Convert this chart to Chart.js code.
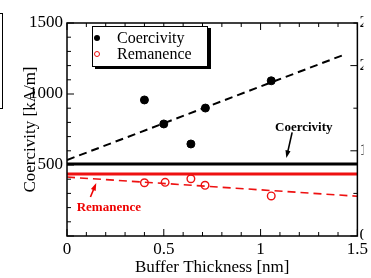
<!DOCTYPE html>
<html>
<head>
<meta charset="utf-8">
<script src="https://cdn.jsdelivr.net/npm/chart.js@4/dist/chart.umd.min.js"></script>
<style>
  html, body { margin: 0; padding: 0; background: #fff; }
  #wrap { position: relative; width: 371px; height: 278px; overflow: hidden; }
  canvas { display: block; }
  .edge-box { position: absolute; left: -10px; top: 13px; width: 11px; height: 94px; border: 1.5px solid #000; }
  .legend { position: absolute; left: 92px; top: 26px; width: 114px; height: 39px; border: 1px solid #000;
            box-shadow: 3px 2px 0 #000; background: #fff; font: 16px "Liberation Serif", serif; color: #000; }
  .legend-row { position: absolute; left: 0; height: 16px; line-height: 16px; white-space: nowrap; }
  .legend-row .mark { position: absolute; left: 1px; top: 5px; width: 6px; height: 6px; border-radius: 50%; box-sizing: border-box; }
  .legend-row .txt { position: absolute; left: 24px; top: 0; }
</style>
</head>
<body>
<div id="wrap">
  <canvas id="chart" width="371" height="278"></canvas>
  <div class="edge-box"></div>
  <div class="legend" id="legend"></div>
</div>
<script>
// ── Data ──────────────────────────────────────────────────────────────────────

const coercThickness = [0.40, 0.50, 0.64, 0.715, 1.055];
const coercValues    = [958, 789, 648, 901, 1093];

const remThickness   = [0.40, 0.507, 0.64, 0.713, 1.055];
const remValues      = [375, 378, 403, 357, 282];

// fitted trend lines (dashed)
const coercFitX = [0, 1.44];
const coercFitY = [535, 1281];
const remFitX   = [0, 1.5];
const remFitY   = [415, 280];

// reference levels (solid)
const levelX       = [0, 1.5];
const coercLevelY  = [507, 507];
const remLevelY    = [437, 437];

const xTickLabels  = ['0', '0.5', '1', '1.5'];
const legendLabels = ['Coercivity', 'Remanence'];

// annotation anchors, in data units
const notes = [
    { text: 'Coercivity', color: '#000', at: [1.223, 760], from: [1.163, 730], to: [1.133, 549] },
    { text: 'Remanence',  color: '#e00', at: [0.216, 197], from: [0.121, 275], to: [0.151, 373] },
];

const SERIF = '"Liberation Serif", "Times New Roman", serif';
const RED = '#ee1111';

const pts = (xs, ys) => xs.map((x, i) => ({ x, y: ys[i] }));

// ── Plugins ───────────────────────────────────────────────────────────────────

function drawArrow(ctx, x1, y1, x2, y2, color) {
    const ang = Math.atan2(y2 - y1, x2 - x1);
    const h = 8;
    ctx.strokeStyle = color;
    ctx.fillStyle = color;
    ctx.lineWidth = 1.6;
    ctx.beginPath();
    ctx.moveTo(x1, y1);
    ctx.lineTo(x2 - Math.cos(ang) * h * 0.7, y2 - Math.sin(ang) * h * 0.7);
    ctx.stroke();
    ctx.beginPath();
    ctx.moveTo(x2, y2);
    ctx.lineTo(x2 - h * Math.cos(ang - 0.33), y2 - h * Math.sin(ang - 0.33));
    ctx.lineTo(x2 - h * Math.cos(ang + 0.33), y2 - h * Math.sin(ang + 0.33));
    ctx.closePath();
    ctx.fill();
}

const frameTicks = {
    id: 'frameTicks',
    afterDatasetsDraw(chart) {
        const { ctx, chartArea: a, scales: { x, y, y2 } } = chart;
        ctx.save();
        ctx.strokeStyle = '#000';
        ctx.lineWidth = 1.5;
        ctx.strokeRect(a.left, a.top, a.right - a.left, a.bottom - a.top);
        ctx.lineWidth = 1;
        ctx.beginPath();
        for (let i = 0; i <= 15; i++) {
            const px = x.getPixelForValue(i / 10);
            const len = i % 5 === 0 ? 7 : 4;
            ctx.moveTo(px, a.bottom); ctx.lineTo(px, a.bottom - len);
            ctx.moveTo(px, a.top);    ctx.lineTo(px, a.top + len);
        }
        for (let i = 0; i <= 15; i++) {
            const py = y.getPixelForValue(i * 100);
            const len = i % 5 === 0 ? 7 : 4;
            ctx.moveTo(a.left, py); ctx.lineTo(a.left + len, py);
        }
        for (let i = 0; i <= 5; i++) {
            const py = y2.getPixelForValue(i * 0.5);
            const len = i % 2 === 0 ? 7 : 4;
            ctx.moveTo(a.right, py); ctx.lineTo(a.right - len, py);
        }
        ctx.stroke();

        // annotations
        notes.forEach(n => {
            ctx.font = `bold 13px ${SERIF}`;
            ctx.fillStyle = n.color;
            ctx.textAlign = 'center';
            ctx.textBaseline = 'middle';
            ctx.fillText(n.text, x.getPixelForValue(n.at[0]), y.getPixelForValue(n.at[1]));
            drawArrow(ctx,
                x.getPixelForValue(n.from[0]), y.getPixelForValue(n.from[1]),
                x.getPixelForValue(n.to[0]),   y.getPixelForValue(n.to[1]), n.color);
        });
        ctx.restore();
    }
};

// ── Chart ─────────────────────────────────────────────────────────────────────

new Chart(document.getElementById('chart').getContext('2d'), {
    type: 'scatter',
    data: {
        datasets: [
            { data: pts(levelX, coercLevelY), showLine: true, borderColor: '#000', borderWidth: 3, pointRadius: 0 },
            { data: pts(levelX, remLevelY),   showLine: true, borderColor: RED,    borderWidth: 3, pointRadius: 0 },
            { data: pts(coercFitX, coercFitY), showLine: true, borderColor: '#000', borderWidth: 2, borderDash: [8, 5], pointRadius: 0 },
            { data: pts(remFitX, remFitY),     showLine: true, borderColor: RED,    borderWidth: 1.6, borderDash: [8, 5], pointRadius: 0 },
            { label: legendLabels[0], data: pts(coercThickness, coercValues), pointRadius: 4,
              pointBackgroundColor: '#000', pointBorderColor: '#000', pointBorderWidth: 1 },
            { label: legendLabels[1], data: pts(remThickness, remValues), pointRadius: 3.8,
              pointBackgroundColor: '#fff', pointBorderColor: RED, pointBorderWidth: 1.4 },
        ],
    },
    options: {
        responsive: false,
        animation: false,
        layout: { padding: { top: 23, left: 0, right: 0, bottom: 0 } },
        plugins: { legend: { display: false }, tooltip: { enabled: false } },
        scales: {
            x: {
                type: 'linear', min: 0, max: 1.5, position: 'bottom',
                grid: { display: false, drawTicks: false },
                border: { display: false },
                ticks: {
                    stepSize: 0.5, padding: 3, color: '#000', maxRotation: 0,
                    font: { family: SERIF, size: 17 },
                    callback: (v, i) => xTickLabels[i] ?? '',
                },
                title: { display: true, text: 'Buffer Thickness [nm]', color: '#000',
                         font: { family: SERIF, size: 17 }, padding: { top: 0, bottom: 0 } },
                afterFit: s => { s.height = 42; },
            },
            y: {
                type: 'linear', min: 0, max: 1500, position: 'left',
                grid: { display: false, drawTicks: false },
                border: { display: false },
                ticks: {
                    stepSize: 500, padding: 4, color: '#000',
                    font: { family: SERIF, size: 17 },
                    callback: v => (v === 0 ? '' : v),
                },
                title: { display: true, text: 'Coercivity [kA/m]', color: '#000',
                         font: { family: SERIF, size: 17 }, padding: { top: 20, bottom: 0 } },
                afterFit: s => { s.width = 67; },
            },
            y2: {
                type: 'linear', min: 0, max: 2.5, position: 'right',
                grid: { display: false, drawTicks: false },
                border: { display: false },
                ticks: { stepSize: 1, padding: 2, color: '#000', font: { family: SERIF, size: 17 } },
                afterFit: s => { s.width = 6; },
            },
        },
    },
    plugins: [frameTicks],
});

// ── Legend ────────────────────────────────────────────────────────────────────

const legendMarks = [
    'background:#000;',
    `background:#fff;border:1.3px solid ${RED};`,
];
document.getElementById('legend').innerHTML = legendLabels.map((label, i) =>
    `<div class="legend-row" style="top:${3 + i * 16}px"><span class="mark" style="${legendMarks[i]}"></span><span class="txt">${label}</span></div>`
).join('');
</script>
</body>
</html>
